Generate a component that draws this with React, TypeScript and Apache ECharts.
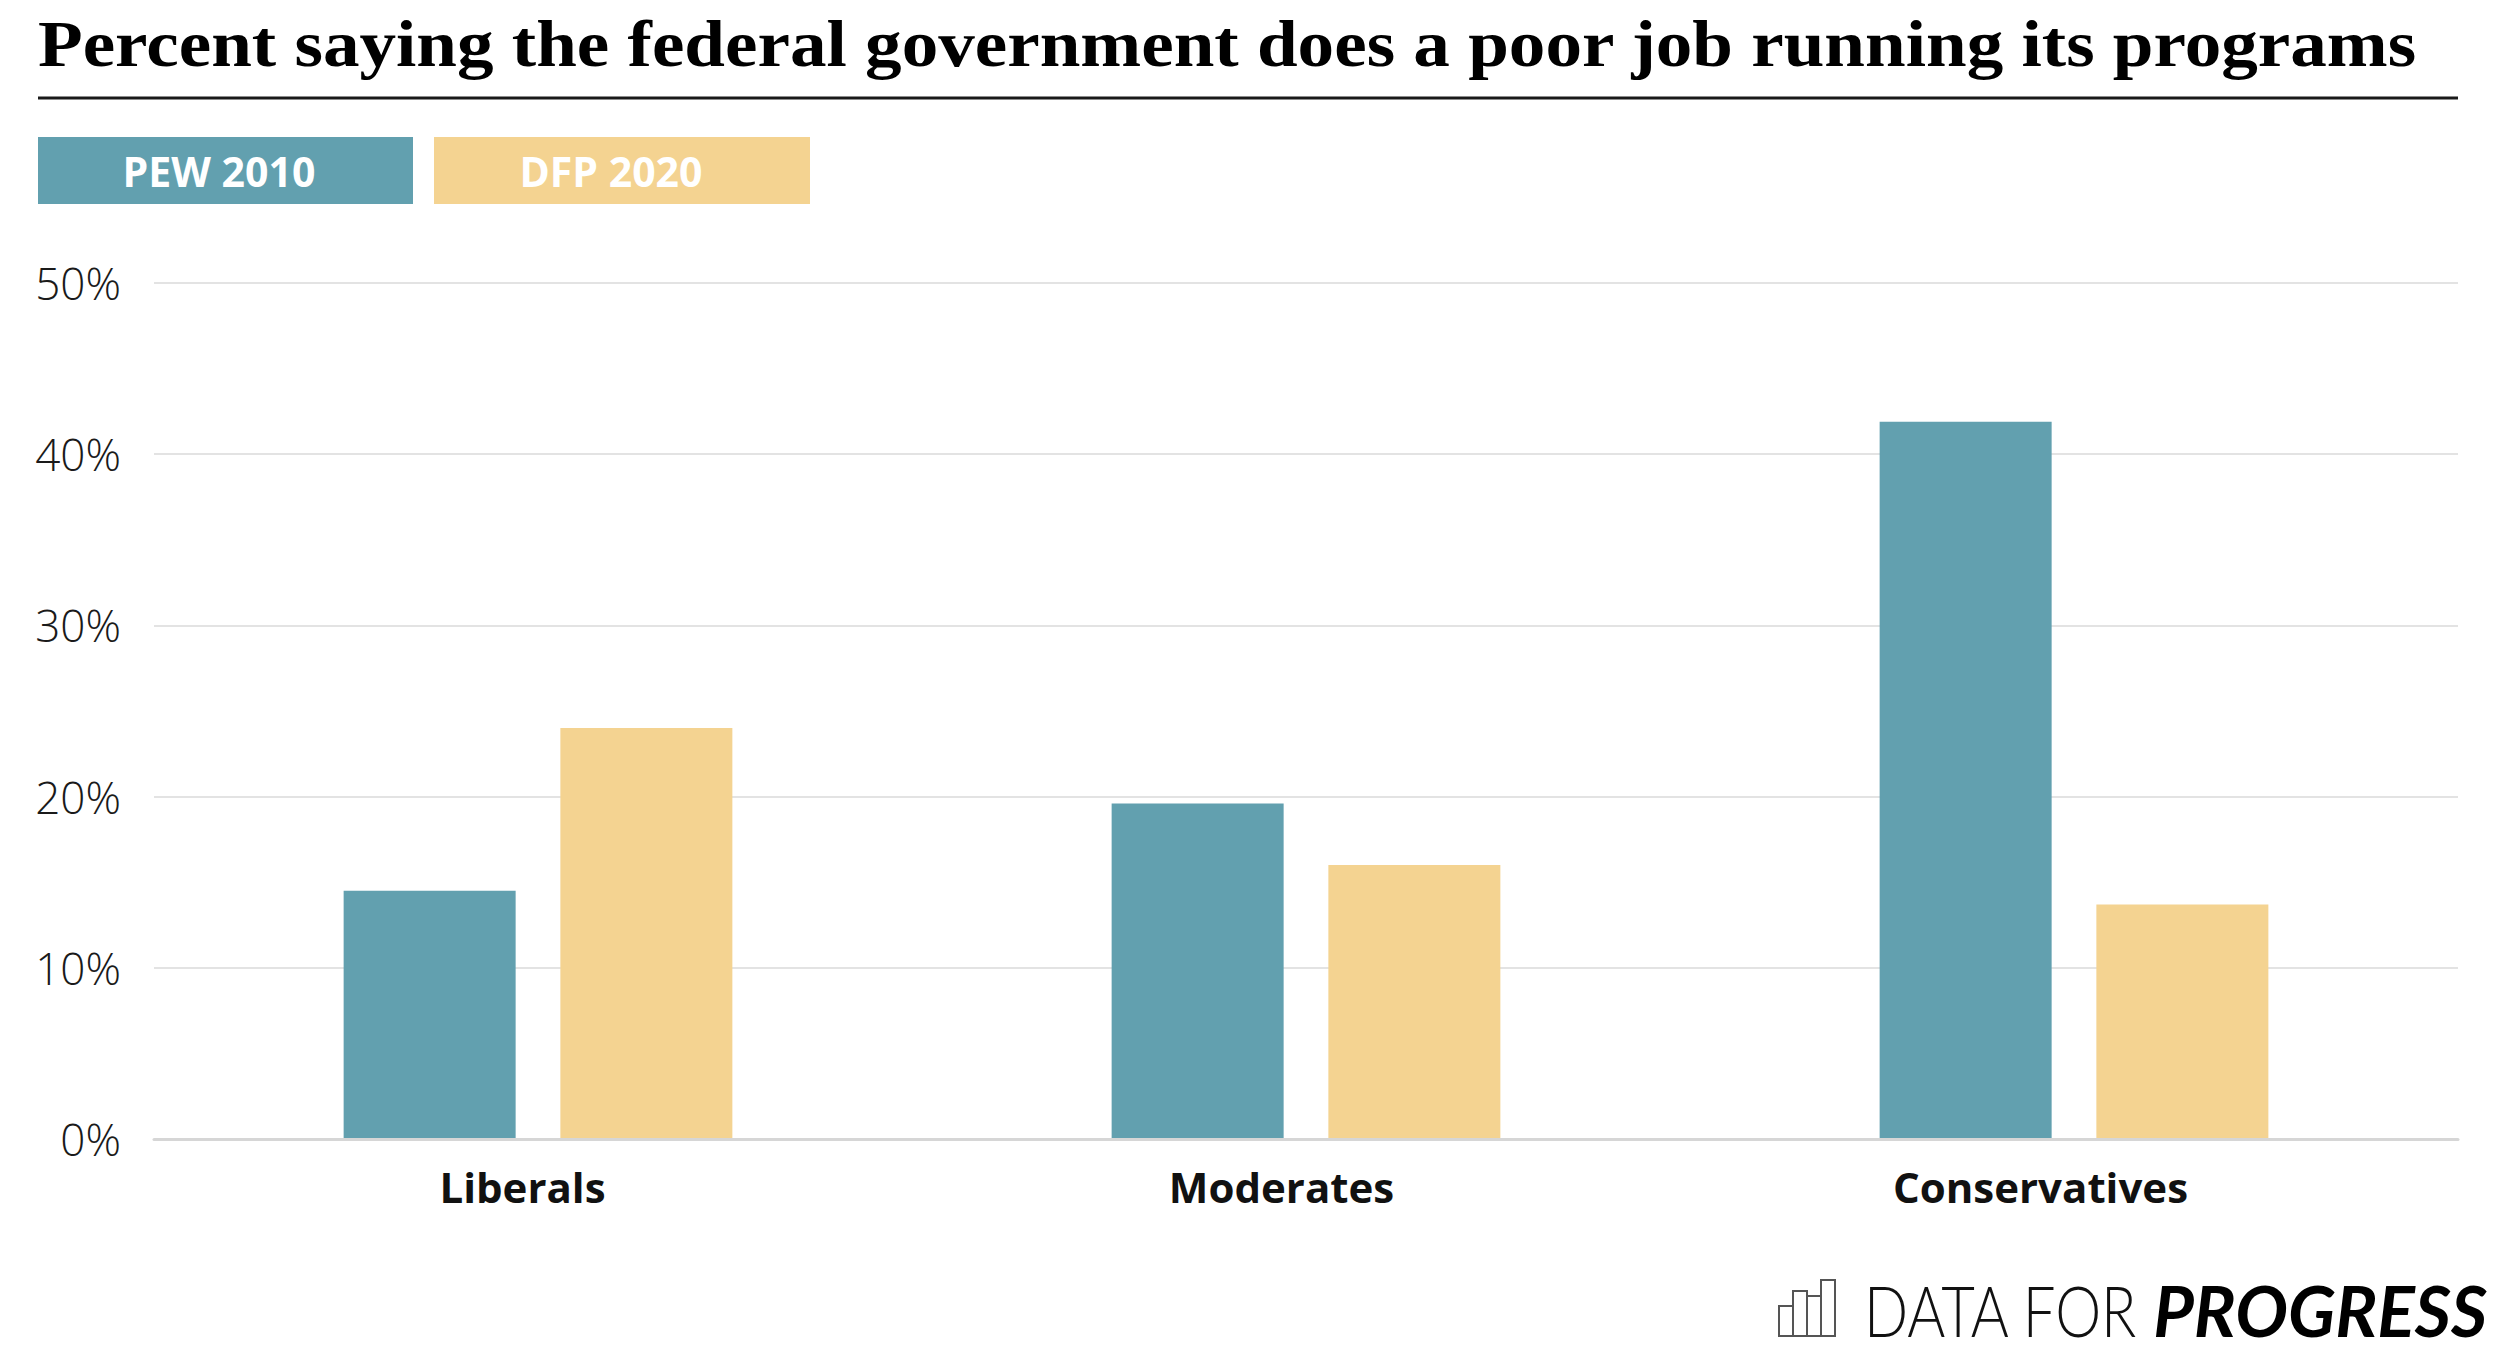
import React, { useEffect, useRef } from "react";
import * as echarts from "echarts";

const titleText = "Percent saying the federal government does a poor job running its programs";
const categories = ["Liberals", "Moderates", "Conservatives"];
const seriesNames = ["PEW 2010", "DFP 2020"];
const pew2010 = [14.5, 19.6, 41.9];
const dfp2020 = [24.0, 16.0, 13.7];
const yTicks = [0, 10, 20, 30, 40, 50];
const seriesColors = ["#62A0AF", "#F4D391"];
const logoWords = ["DATA FOR", "PROGRESS"];
const logoBars = [30, 45, 40, 56];

export default function App() {
  const ref = useRef<HTMLDivElement>(null);
  useEffect(() => {
    if (!ref.current) return;
    const chart = echarts.init(ref.current, undefined, { renderer: "svg" });
    const legendBoxes = [
      { x: 38, w: 375, tx: 219 },
      { x: 434, w: 376, tx: 611 },
    ];
    const graphic: any[] = [
      {
        type: "text",
        x: 38,
        y: 44,
        scaleX: 1.125,
        style: {
          x: 0,
          y: 0,
          text: titleText,
          fontFamily: "Liberation Serif",
          fontWeight: "bold",
          fontSize: 65,
          fill: "#000",
          textAlign: "left",
          textVerticalAlign: "middle",
          align: "left",
          verticalAlign: "middle",
        },
      },
      {
        type: "line",
        shape: { x1: 38, y1: 98, x2: 2458, y2: 98 },
        style: { stroke: "#1a1a1a", lineWidth: 3 },
      },
    ];
    seriesNames.forEach((name, i) => {
      graphic.push({
        type: "rect",
        shape: { x: legendBoxes[i].x, y: 137, width: legendBoxes[i].w, height: 67 },
        style: { fill: seriesColors[i] },
      });
      graphic.push({
        type: "text",
        style: {
          x: legendBoxes[i].tx,
          y: 171,
          text: name,
          fontFamily: "Open Sans",
          fontWeight: "bold",
          fontSize: 41,
          fill: "#fff",
          textAlign: "center",
          textVerticalAlign: "middle",
          align: "center",
          verticalAlign: "middle",
        },
      });
    });
    // logo icon
    logoBars.forEach((h, i) => {
      graphic.push({
        type: "rect",
        shape: { x: 1779 + i * 14, y: 1336 - h, width: 14, height: h },
        style: { fill: "none", stroke: "#555", lineWidth: 2 },
      });
    });
    graphic.push({
      type: "text",
      x: 1864,
      y: 1310,
      scaleX: 0.83,
      style: {
        x: 0,
        y: 0,
        text: logoWords[0],
        fontFamily: "Lato",
        fontWeight: 300,
        fontSize: 70,
        fill: "#111",
        textAlign: "left",
        textVerticalAlign: "middle",
        align: "left",
        verticalAlign: "middle",
      },
    });
    graphic.push({
      type: "text",
      style: {
        x: 2487,
        y: 1310,
        text: logoWords[1],
        fontFamily: "Lato",
        fontWeight: "bold",
        fontStyle: "italic",
        fontSize: 70,
        fill: "#000",
        textAlign: "right",
        textVerticalAlign: "middle",
        align: "right",
        verticalAlign: "middle",
      },
    });

    const option: any = {
      animation: false,
      backgroundColor: "#fff",
      graphic,
      grid: [
        { left: 154, right: 42, top: 283, bottom: 217 },
        { left: 143, right: 80, top: 283, bottom: 217 },
      ],
      xAxis: [
        {
          type: "category",
          gridIndex: 0,
          data: categories,
          z: 5,
          axisLine: { show: true, lineStyle: { color: "#d6d6d6", width: 3 } },
          axisTick: { show: false },
          axisLabel: { show: false },
        },
        {
          type: "category",
          gridIndex: 1,
          data: categories,
          axisLine: { show: false },
          axisTick: { show: false },
          axisLabel: {
            margin: 26,
            fontFamily: "Open Sans",
            fontWeight: "bold",
            fontSize: 42,
            color: "#111",
          },
        },
      ],
      yAxis: [
        {
          type: "value",
          gridIndex: 0,
          min: yTicks[0],
          max: yTicks[yTicks.length - 1],
          interval: yTicks[1] - yTicks[0],
          axisLine: { show: false },
          axisTick: { show: false },
          axisLabel: {
            formatter: "{value}%",
            margin: 33,
            fontFamily: "Open Sans",
            fontWeight: 300,
            fontSize: 44,
            color: "#1a1a1a",
          },
          splitLine: { lineStyle: { color: "#e3e3e3", width: 2 } },
        },
        {
          type: "value",
          gridIndex: 1,
          min: yTicks[0],
          max: yTicks[yTicks.length - 1],
          show: false,
        },
      ],
      series: [
        {
          name: seriesNames[0],
          type: "bar",
          xAxisIndex: 0,
          yAxisIndex: 0,
          data: pew2010,
          barWidth: 172,
          barGap: "26%",
          itemStyle: { color: seriesColors[0] },
        },
        {
          name: seriesNames[1],
          type: "bar",
          xAxisIndex: 0,
          yAxisIndex: 0,
          data: dfp2020,
          barWidth: 172,
          barGap: "26%",
          itemStyle: { color: seriesColors[1] },
        },
      ],
    };
    chart.setOption(option);
    return () => chart.dispose();
  }, []);
  return (
    <div
      ref={ref}
      style={{ position: "absolute", left: 0, top: 0, width: 2500, height: 1356 }}
    />
  );
}
